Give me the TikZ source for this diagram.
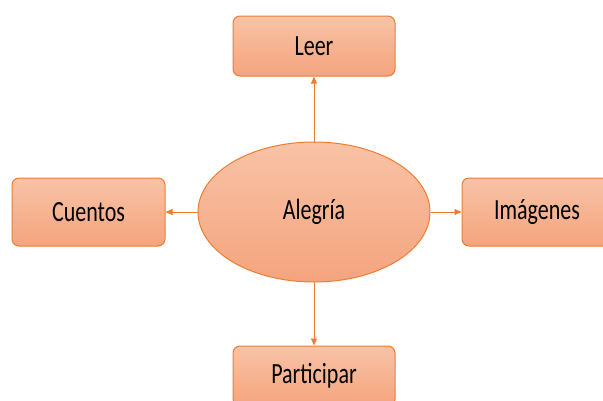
\documentclass[tikz,border=0pt]{standalone}
\usepackage{fontspec}
\usepackage{graphicx}
\setmainfont{Carlito}
\usetikzlibrary{arrows.meta,shapes.geometric}
\definecolor{orline}{HTML}{ED7D31}
\definecolor{ortop}{HTML}{F8C3A6}
\definecolor{orbot}{HTML}{F4A47E}
\newcommand{\tall}[1]{\scalebox{1}[1.33]{#1}}
\tikzset{
  box/.style={draw=orline, line width=1pt, rounded corners=7pt, top color=ortop, bottom color=orbot, minimum width=162pt, minimum height=60pt, font=\fontsize{22}{24}\selectfont, inner sep=0pt},
  ell/.style={draw=orline, line width=1pt, ellipse, top color=ortop, bottom color=orbot, minimum width=232pt, minimum height=140pt, font=\fontsize{22}{24}\selectfont, inner sep=0pt},
  conn/.style={draw=orline, line width=0.9pt, -{Triangle[length=7pt,width=6pt]}}
}
\begin{document}
\begin{tikzpicture}[x=1pt,y=-1pt]
\useasboundingbox (0,0) rectangle (603,400);
\begin{scope}
\clip (0,0) rectangle (603,400);
\node[ell] (c) at (314,212) {\tall{Alegría}};
\node[box] (t) at (314,46) {\tall{Leer}};
\node[box, minimum width=153pt, minimum height=68pt] (l) at (88.5,212) {\tall{Cuentos}};
\node[box, minimum width=153pt, minimum height=68pt] (r) at (538.5,212) {\hspace*{-3pt}\tall{Imágenes}};
\node[box] (b) at (314,376) {\tall{Participar}};
\draw[conn] (c.north) -- (t.south);
\draw[conn] (c.west) -- (l.east);
\draw[conn] (c.east) -- (r.west);
\draw[conn] (c.south) -- (b.north);
\end{scope}
\end{tikzpicture}
\end{document}
